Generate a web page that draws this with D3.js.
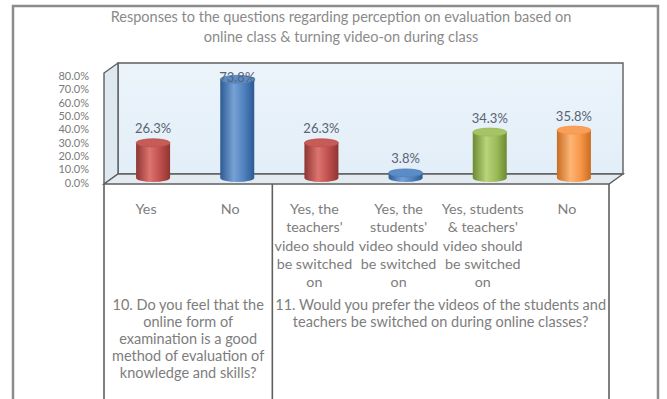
<!DOCTYPE html>
<html><head><meta charset="utf-8">
<script src="https://cdn.jsdelivr.net/npm/d3@7"></script>
<style>html,body{margin:0;padding:0;background:#fff;}svg{display:block;}</style>
</head><body>
<svg id="chart" width="667" height="399"></svg>
<script>
// ---- data ----
const titleLines = ["Responses to the questions regarding perception on evaluation based on",
                    "online class & turning video-on during class"];
const categories = ["Yes", "No",
  "Yes, the\nteachers'\nvideo should\nbe switched\non",
  "Yes, the\nstudents'\nvideo should\nbe switched\non",
  "Yes, students\n& teachers'\nvideo should\nbe switched\non",
  "No"];
const values = [26.3, 73.8, 26.3, 3.8, 34.3, 35.8];
const barColors = ["red", "blue", "red", "blue", "green", "orange"];
const groups = [
  {label: "10. Do you feel that the\nonline form of\nexamination is a good\nmethod of evaluation of\nknowledge and skills?", from: 0, to: 1},
  {label: "11. Would you prefer the videos of the students and\nteachers be switched on during online classes?", from: 2, to: 5}
];
const yTicks = [0, 10, 20, 30, 40, 50, 60, 70, 80];

// ---- style / layout ----
const palette = {
  red:    {dark: "#8e3532", mid: "#c0504d", light: "#dc7470", top: "#c65b58"},
  blue:   {dark: "#2c5a93", mid: "#4f81bd", light: "#77a2d6", top: "#5b8cc6"},
  green:  {dark: "#6c8a32", mid: "#9bbb59", light: "#b9d47a", top: "#a6c466"},
  orange: {dark: "#c86d22", mid: "#f79646", light: "#fbb576", top: "#f8a05a"}
};
const FONT = "Lato, 'Open Sans', sans-serif";
const fx0 = 104, fx1 = 609, fyTop = 73, fyBot = 184;
const ddx = 14, ddy = 10;

const svg = d3.select("#chart");
const defs = svg.append("defs");
Object.entries(palette).forEach(([k, c]) => {
  const g = defs.append("linearGradient").attr("id", "g-" + k).attr("x1", "0").attr("x2", "1").attr("y1", "0").attr("y2", "0");
  g.append("stop").attr("offset", "0%").attr("stop-color", c.dark);
  g.append("stop").attr("offset", "40%").attr("stop-color", c.light);
  g.append("stop").attr("offset", "70%").attr("stop-color", c.mid);
  g.append("stop").attr("offset", "100%").attr("stop-color", c.dark);
});
const wallG = defs.append("linearGradient").attr("id", "wall").attr("x1", "0").attr("x2", "0").attr("y1", "0").attr("y2", "1");
wallG.append("stop").attr("offset", "0%").attr("stop-color", "#ecf4fb");
wallG.append("stop").attr("offset", "100%").attr("stop-color", "#e2eef8");

// outer frame
svg.append("rect").attr("x", 13).attr("y", 6).attr("width", 645).attr("height", 430)
  .attr("fill", "#fff").attr("stroke", "#8c8c8c").attr("stroke-width", 2.5);

// title
svg.append("g").selectAll("text").data(titleLines).join("text")
  .attr("x", 341).attr("y", (d, i) => 22 + i * 20)
  .attr("text-anchor", "middle").attr("font-family", FONT).attr("font-size", 14.5)
  .attr("fill", "#8a8a8a").text(d => d);

// scales
const x = d3.scaleBand().domain(d3.range(categories.length)).range([fx0, fx1]).paddingInner(0).paddingOuter(0);
const y = d3.scaleLinear().domain([0, 80]).range([183, 76]);

// walls
const stroke = "#5f5f5f";
svg.append("path") // back wall
  .attr("d", `M${fx0+ddx},${fyTop-ddy} L${fx1+ddx},${fyTop-ddy} L${fx1+ddx},${fyBot-ddy} L${fx0+ddx},${fyBot-ddy} Z`)
  .attr("fill", "url(#wall)").attr("stroke", stroke).attr("stroke-width", 1.4);
svg.append("path") // left wall
  .attr("d", `M${fx0},${fyTop} L${fx0+ddx},${fyTop-ddy} L${fx0+ddx},${fyBot-ddy} L${fx0},${fyBot} Z`)
  .attr("fill", "#dde8f1").attr("stroke", stroke).attr("stroke-width", 1.4);
svg.append("path") // floor
  .attr("d", `M${fx0},${fyBot} L${fx0+ddx},${fyBot-ddy} L${fx1+ddx},${fyBot-ddy} L${fx1},${fyBot} Z`)
  .attr("fill", "#e3ebf1").attr("stroke", stroke).attr("stroke-width", 1.4);

// y axis labels
svg.append("g").selectAll("text").data(yTicks).join("text")
  .attr("x", 89).attr("y", d => y(d)).attr("dy", "0.35em")
  .attr("text-anchor", "end").attr("font-family", FONT).attr("font-size", 11)
  .attr("fill", "#7a7a7a").text(d => d3.format(".1f")(d) + "%");

// bars (cylinders)
const bw = 34, rx = bw / 2, ry = 4;
const barsG = svg.append("g");
values.forEach((v, i) => {
  const cx = x(i) + x.bandwidth() / 2 + ddx / 2;
  const yb = y(0) - ddy / 2, yt = y(v) - ddy / 2;
  const c = palette[barColors[i]];
  barsG.append("path")
    .attr("d", `M${cx-rx},${yt} L${cx-rx},${yb} A${rx},${ry} 0 0 0 ${cx+rx},${yb} L${cx+rx},${yt} Z`)
    .attr("fill", `url(#g-${barColors[i]})`);
  barsG.append("ellipse").attr("cx", cx).attr("cy", yt).attr("rx", rx).attr("ry", ry)
    .attr("fill", c.top).attr("stroke", c.mid).attr("stroke-width", 0.8);
  barsG.append("text").attr("x", cx).attr("y", Math.max(yt - 14, 77)).attr("dy", "0.35em")
    .attr("text-anchor", "middle").attr("font-family", FONT).attr("font-size", 13)
    .attr("fill", "#5a6272").text(d3.format(".1f")(v) + "%");
});

// table
const tG = svg.append("g").attr("stroke", stroke).attr("stroke-width", 1.6);
const divs = [fx0, x(groups[1].from), fx1];
divs.forEach(d => tG.append("line").attr("x1", d).attr("x2", d).attr("y1", fyBot).attr("y2", 410));

// category labels
categories.forEach((c, i) => {
  const cx = x(i) + x.bandwidth() / 2;
  svg.append("text").attr("font-family", FONT).attr("font-size", 14.3).attr("fill", "#7d7d7d")
    .attr("text-anchor", "middle")
    .selectAll("tspan").data(c.split("\n")).join("tspan")
    .attr("x", cx).attr("y", (d, j) => 214 + j * 18.3).text(d => d);
});

// group labels
groups.forEach(g => {
  const gx = (x(g.from) + x(g.to) + x.bandwidth()) / 2;
  svg.append("text").attr("font-family", FONT).attr("font-size", 14.5).attr("fill", "#7d7d7d")
    .attr("text-anchor", "middle")
    .selectAll("tspan").data(g.label.split("\n")).join("tspan")
    .attr("x", gx).attr("y", (d, j) => 310 + j * 17).text(d => d);
});
</script>
</body></html>
